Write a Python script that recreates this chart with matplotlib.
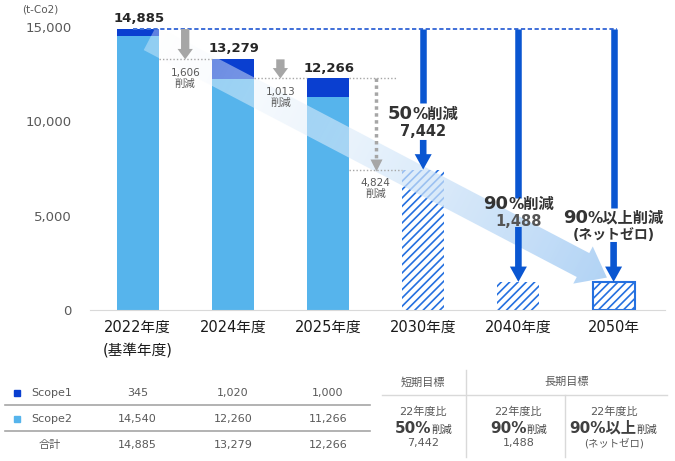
import numpy as np
import matplotlib.pyplot as plt
from matplotlib import transforms
from matplotlib.patches import Polygon, Rectangle
from matplotlib.lines import Line2D

plt.rcParams['font.family'] = ['DejaVu Sans', 'Noto Sans CJK JP']
plt.rcParams['hatch.linewidth'] = 1.2

# data
years = ['2022年度', '2024年度', '2025年度', '2030年度', '2040年度', '2050年']
scope1 = [345, 1020, 1000]
scope2 = [14540, 12260, 11266]
totals = [14885, 13279, 12266]
targets = [7442, 1488, 1488]          # 2050 drawn at the 2040 level
reductions = [1606, 1013, 4824]
goal_titles = ['短期目標', '長期目標']

c_s1 = '#0a3fd0'
c_s2 = '#56b4ec'
c_hatch = '#2470e0'
c_arrow = '#0a56d1'
c_gray = '#a6a6a6'
c_text = '#595959'
c_dark = '#333333'

W, H = 675, 461
fig = plt.figure(figsize=(W / 100, H / 100), dpi=100)
ax = fig.add_axes([90 / W, 151 / H, 575 / W, 302 / H])
ax.set_xlim(-0.5, 5.54)
ax.set_ylim(0, 16000)
x = np.arange(len(years))
bw = 0.44

# stacked actuals
ax.bar(x[:3], scope2, width=bw, color=c_s2, zorder=2)
ax.bar(x[:3], scope1, bottom=scope2, width=bw, color=c_s1, zorder=2)
# hatched targets
for i, v in enumerate(targets):
    ax.bar(x[3 + i], v, width=bw, color='white', edgecolor=c_hatch, hatch='////',
           linewidth=1.5 if i == 2 else 0, zorder=2)

# axes styling
for s in ['top', 'right', 'left']:
    ax.spines[s].set_visible(False)
ax.spines['bottom'].set_color('#d9d9d9')
ax.set_yticks([0, 5000, 10000, 15000])
ax.set_yticklabels([f'{v:,}' for v in [0, 5000, 10000, 15000]])
ax.tick_params(axis='y', length=0, pad=13, labelsize=9.5, labelcolor=c_text)
ax.set_xticks(x, years)
ax.tick_params(axis='x', length=0, pad=7, labelsize=10.5, labelcolor='#1a1a1a')
ax.annotate('(基準年度)', xy=(0, 0), xycoords=('data', 'axes fraction'), xytext=(0, -29),
            textcoords='offset points', ha='center', va='center', size=10.5, color='#1a1a1a')
fig.text(22 / W, 1 - 10 / H, '(t-Co2)', size=7.5, color=c_text, va='center')

# value labels over actual bars
for i, t in enumerate(totals):
    ax.annotate(f'{t:,}', xy=(x[i], t), xytext=(1, 7.5), textcoords='offset points',
                ha='center', va='center', size=9.5, weight='bold', color='#262626', zorder=5)

# dashed baseline level
ax.plot([-0.05, 5.04], [totals[0]] * 2, color='#3f6fd8', lw=1.4, ls=(0, (2.2, 1.3)), zorder=3)

# dotted reference lines
dot = dict(color=c_gray, lw=1, ls=(0, (1, 1.5)), zorder=3)
ax.plot([bw / 2, 1 - bw / 2], [totals[1]] * 2, **dot)
ax.plot([1 + bw / 2, 2 - bw / 2], [totals[2]] * 2, **dot)
ax.plot([2 + bw / 2, 2.73], [totals[2]] * 2, **dot)
ax.plot([2 + bw / 2, 3 - bw / 2], [targets[0]] * 2, **dot)

# gray reduction arrows
for i in range(2):
    ax.annotate('', xy=(x[i] + 0.5, totals[i + 1]), xytext=(x[i] + 0.5, totals[i]),
                arrowprops=dict(arrowstyle='simple,head_length=0.75,head_width=1.1,tail_width=0.6',
                                mutation_scale=10, color=c_gray, lw=0, shrinkA=0, shrinkB=0),
                zorder=3)
ax.plot([2.5, 2.5], [totals[2], targets[0] + 350], color=c_gray, lw=2.5, ls=(0, (1, 1)), zorder=3)
ax.plot([2.5], [targets[0] + 240], marker='v', ms=9, color=c_gray, mec='none', zorder=3)
red_y = [totals[1], totals[2], targets[0]]
for i, r in enumerate(reductions):
    ax.annotate(f'{r:,}\n削減', xy=(x[i] + 0.5, red_y[i]), xytext=(0, -6), textcoords='offset points',
                ha='center', va='top', size=7.5, color=c_text, linespacing=1.1, zorder=5)

# blue target arrows, broken where the labels sit
gaps = [(10970, 9009), (5935, 4400), (5405, 3604)]
for i, v in enumerate(targets):
    xi = x[3 + i]
    ax.plot([xi, xi], [totals[0], gaps[i][0]], color=c_arrow, lw=4.7, solid_capstyle='butt', zorder=4)
    ax.annotate('', xy=(xi, v), xytext=(xi, gaps[i][1]),
                arrowprops=dict(arrowstyle='simple,head_length=0.65,head_width=0.72,tail_width=0.28',
                                mutation_scale=17, color=c_arrow, lw=0, shrinkA=0, shrinkB=0),
                zorder=4)


def mixed_text(target, xx, yy, parts, transform, color, zorder=5):
    renderer = fig.canvas.get_renderer()
    texts = []
    for s, size, weight in parts:
        t = target.text(xx, yy, s, size=size, weight=weight, color=color, transform=transform,
                        ha='left', va='baseline', zorder=zorder)
        texts.append(t)
    widths = [t.get_window_extent(renderer).width for t in texts]
    off = -sum(widths) / 2
    for t, w in zip(texts, widths):
        t.set_transform(transforms.offset_copy(transform, fig=fig, x=off, y=0, units='dots'))
        off += w


mixed_text(ax, 3, 10120, [('50', 13, 'bold'), ('%削減', 11, 'bold')], ax.transData, c_dark)
ax.text(3, 9433, f'{targets[0]:,}', ha='center', va='center', size=10.5, weight='bold',
        color=c_dark, zorder=5)
mixed_text(ax, 4, 5352, [('90', 13, 'bold'), ('%削減', 11, 'bold')], ax.transData, c_dark)
ax.text(4, 4663, f'{targets[1]:,}', ha='center', va='center', size=10.5, weight='bold',
        color='#555555', zorder=5)
mixed_text(ax, 5, 4610, [('90', 13, 'bold'), ('%以上削減', 11, 'bold')], ax.transData, c_dark)
ax.text(5, 3975, '(ネットゼロ)', ha='center', va='center', size=10, weight='bold',
        color=c_dark, zorder=5)

# big translucent trend arrow with gradient (over the bars, under the annotations)
p0 = ax.transData.transform((x[0] + 0.13, totals[0] - 480))
p1 = ax.transData.transform((x[5] - 0.07, targets[2] + 230))
d = (p1 - p0) / np.linalg.norm(p1 - p0)
n = np.array([-d[1], d[0]])
shaft, head_w, head_l = 13.5, 21, 27
pb = p1 - d * head_l
pts = np.array([p0 + n * shaft, pb + n * shaft, pb + n * head_w, p1,
                pb - n * head_w, pb - n * shaft, p0 - n * shaft])
poly = Polygon(ax.transData.inverted().transform(pts), closed=True, transform=ax.transData,
               fc='none', ec='none')
ax.add_patch(poly)
xl, yl = ax.get_xlim(), ax.get_ylim()
gx, gy = np.meshgrid(np.linspace(xl[0], xl[1], 600), np.linspace(yl[0], yl[1], 320))
disp = ax.transData.transform(np.column_stack([gx.ravel(), gy.ravel()]))
tt = np.clip(((disp - p0) @ d) / np.linalg.norm(p1 - p0), 0, 1).reshape(gx.shape)
end_c = np.array([0.68, 0.82, 0.96])
img = np.zeros(gx.shape + (4,))
for k in range(3):
    img[..., k] = 1 + (end_c[k] - 1) * tt
img[..., 3] = 0.35 + 0.6 * tt
im = ax.imshow(img, extent=(xl[0], xl[1], yl[0], yl[1]), origin='lower', aspect='auto',
               zorder=2.5, interpolation='bilinear')
im.set_clip_path(poly)
ax.set_xlim(xl)
ax.set_ylim(yl)

# ---- tables below ----
col_tf = transforms.blended_transform_factory(ax.transData, fig.transFigure)


def fy(py):
    return 1 - py / H


rows = [('Scope1', scope1, c_s1, 393), ('Scope2', scope2, c_s2, 419)]
for name, vals, col, ry in rows:
    fig.add_artist(Rectangle((14 / W, fy(ry + 3)), 6 / W, 6 / H, color=col, transform=fig.transFigure))
    fig.text(31 / W, fy(ry), name, va='center', size=8, color=c_text)
    for i, v in enumerate(vals):
        fig.text(x[i], fy(ry), f'{v:,}', transform=col_tf, ha='center', va='center', size=8, color=c_text)
fig.text(50 / W, fy(445), '合計', ha='center', va='center', size=8, color=c_text)
for i, v in enumerate(totals):
    fig.text(x[i], fy(445), f'{v:,}', transform=col_tf, ha='center', va='center', size=8, color=c_text)
for ly in [405, 431]:
    fig.add_artist(Line2D([5 / W, 370 / W], [fy(ly)] * 2, color=c_gray, lw=1.2))

# goals table
fig.text(423 / W, fy(382), goal_titles[0], ha='center', va='center', size=8, color=c_text)
fig.text(567 / W, fy(382), goal_titles[1], ha='center', va='center', size=8, color=c_text)
fig.add_artist(Line2D([382 / W, 667 / W], [fy(395)] * 2, color='#d9d9d9', lw=1))
fig.add_artist(Line2D([466 / W] * 2, [fy(370), fy(457)], color='#d9d9d9', lw=1))
fig.add_artist(Line2D([565 / W] * 2, [fy(395), fy(457)], color='#d9d9d9', lw=1))
big = [('50%', '削減'), ('90%', '削減'), ('90%以上', '削減')]
bottoms = [f'{targets[0]:,}', f'{targets[1]:,}', '(ネットゼロ)']
for i in range(3):
    fig.text(x[3 + i], fy(412), '22年度比', transform=col_tf, ha='center', va='center', size=8, color=c_text)
    mixed_text(fig, x[3 + i], fy(433), [(big[i][0], 11, 'bold'), (big[i][1], 7.5, 'normal')],
               col_tf, '#404040')
    fig.text(x[3 + i], fy(443), bottoms[i], transform=col_tf, ha='center', va='center',
             size=8 if i < 2 else 7.5, color=c_text)

fig.savefig('out.png', dpi=100)
